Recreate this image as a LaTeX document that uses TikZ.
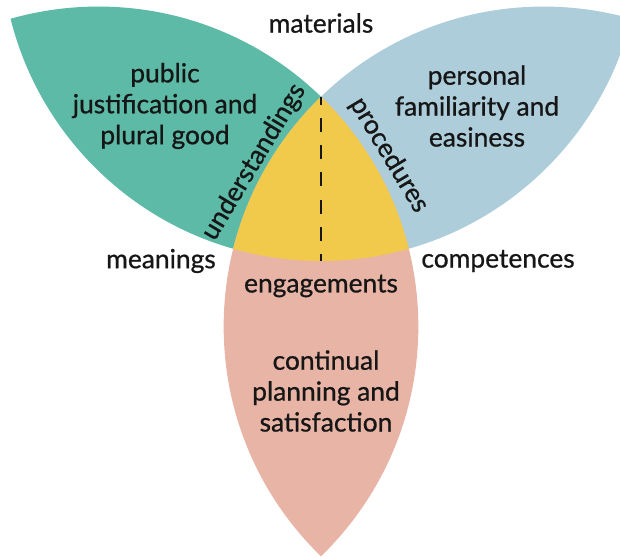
\documentclass[tikz,border=0pt]{standalone}
\usepackage{fontspec}
\setmainfont{Lato}[BoldFont=Lato,BoldFeatures={FakeBold=0.8}]
\definecolor{leafgreen}{RGB}{92,186,166}
\definecolor{leafblue}{RGB}{173,205,218}
\definecolor{leafpink}{RGB}{232,180,166}
\definecolor{coreyellow}{RGB}{241,202,75}
\definecolor{ink}{RGB}{22,22,22}
\begin{document}
\begin{tikzpicture}[x=0.02cm,y=-0.02cm,
  label/.style={text=ink,font=\fontsize{15}{17.6}\selectfont\bfseries,align=center,inner sep=0pt},
  axisline/.style={ink,line width=0.055cm,dash pattern=on 0.28cm off 0.265cm},
  ]
  \useasboundingbox (0,0) rectangle (620,558);
  % three equal circles; each leaf is the overlap of two of them
  \coordinate (ctop)   at (321,-59);
  \coordinate (cright) at (543.6,326.5);
  \coordinate (cleft)  at (98.4,326.5);
  \def\rad{6.4cm}
  % upper-left leaf
  \begin{scope}
    \clip (cleft) circle (\rad);
    \fill[leafgreen] (ctop) circle (\rad);
  \end{scope}
  % upper-right leaf
  \begin{scope}
    \clip (cright) circle (\rad);
    \fill[leafblue] (ctop) circle (\rad);
  \end{scope}
  % lower leaf
  \begin{scope}
    \clip (cright) circle (\rad);
    \fill[leafpink] (cleft) circle (\rad);
  \end{scope}
  % common core of all three
  \begin{scope}
    \clip (cright) circle (\rad);
    \clip (cleft) circle (\rad);
    \fill[coreyellow] (ctop) circle (\rad);
  \end{scope}
  % dashed axis through the core
  \coordinate (coretop) at (321,96.6);
  \coordinate (corebot) at (321,261);
  \draw[axisline,dash phase=0.12cm] (coretop) -- (corebot);

  % labels
  \node[label] (materials)   at (321,23)  {materials};
  \node[label] (meanings)    at (161,261) {meanings};
  \node[label] (competences) at (498,261) {competences};
  \node[label] (engagements) at (321,286) {engagements};
  \node[label] (public)    at (165,106) {public\\justification and\\plural good};
  \node[label] (personal)  at (477,106) {personal\\familiarity and\\easiness};
  \node[label] (continual) at (326,391) {continual\\planning and\\satisfaction};
  \node[label,rotate=59]  (understandings) at (254,162) {understandings};
  \node[label,rotate=-59] (procedures)     at (389,155) {procedures};
\end{tikzpicture}
\end{document}
